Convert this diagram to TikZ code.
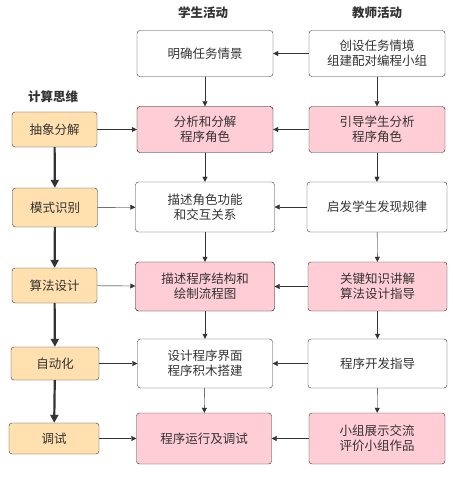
\documentclass[tikz,border=0pt]{standalone}
\usepackage{fontspec}
\setmainfont{Noto Sans CJK SC}
\usepackage{tikz}
\usetikzlibrary{arrows.meta,positioning}
\definecolor{linegray}{HTML}{333333}
\definecolor{pinkfill}{HTML}{FFCDD6}
\definecolor{peach}{HTML}{FFE0AE}

\begin{document}
\begin{tikzpicture}[
x=1pt,y=-1pt,
node distance=30pt and 36pt,
every node/.style={align=center,text=linegray,font=\fontsize{12.5}{15}\selectfont},
box/.style={draw=linegray,rounded corners=3pt,inner sep=3pt,minimum width=136pt,minimum height=46pt},
hot/.style={box,fill=pinkfill},
hotb/.style={hot,draw=black},
ct/.style={draw=linegray,fill=peach,rounded corners=3pt,minimum width=85pt,minimum height=35pt},
head/.style={font=\fontsize{12.5}{15}\selectfont\bfseries},
arr/.style={-{Triangle[length=5pt,width=5pt]},draw=linegray,fill=linegray},
big/.style={-{Triangle[length=8pt,width=8pt]},draw=linegray,line width=2.2pt}
]
\useasboundingbox (0,0) rectangle (452,478);

% student column
\node[box] (s1) at (205,53.5) {明确任务情景};
\node[hotb] (s2) at (205,129.5) {分析和分解\\程序角色};
\node[box,minimum width=139pt,minimum height=50pt] (s3) at (205,207) {描述角色功能\\和交互关系};
\node[hotb,minimum width=139pt,minimum height=49pt] (s4) at (205,286.5) {描述程序结构和\\绘制流程图};
\node[box,minimum width=135pt,minimum height=49pt] (s5) at (205,363.5) {设计程序界面\\程序积木搭建};
\node[hot,minimum width=135pt,minimum height=51pt] (s6) at (204,438.5) {程序运行及调试};

% teacher column
\node[box] (t1) at (377,53.5) {创设任务情境\\组建配对编程小组};
\node[hot] (t2) at (377,129.5) {引导学生分析\\程序角色};
\node[box,minimum width=140pt,minimum height=50pt] (t3) at (377,207) {启发学生发现规律};
\node[hot,minimum width=139pt,minimum height=49pt] (t4) at (377.5,286.5) {关键知识讲解\\算法设计指导};
\node[box,minimum width=139pt,minimum height=49pt] (t5) at (377.5,363.5) {程序开发指导};
\node[hot,minimum width=136pt,minimum height=51pt] (t6) at (377,438.5) {小组展示交流\\评价小组作品};

% computational thinking
\node[ct] (c1) at (54.5,129.5) {抽象分解};
\node[ct,minimum height=39pt] (c2) at (55,207.5) {模式识别};
\node[ct] (c3) at (54.5,285.5) {算法设计};
\node[ct,minimum width=88pt,minimum height=33pt] (c4) at (55,363.5) {自动化};
\node[ct,minimum width=90pt,minimum height=31pt] (c5) at (54,438.5) {调试};

% headers
\node[head] (hs) at (203,13) {学生活动};
\node[head] (ht) at (377,13) {教师活动};
\node[head] (hc) at (53,97) {计算思维};

\foreach \i/\j in {1/2,2/3,3/4,4/5,5/6} {
  \draw[arr] (s\i) -- (s\j);
  \draw[arr] (t\i) -- (t\j);
}
\foreach \i in {1,...,6}
  \draw[arr] (t\i) -- (s\i);
\foreach \i/\j in {1/2,2/3,3/4,4/5}
  \draw[big] (c\i) -- (c\j);
\foreach \i/\j in {1/2,2/3,3/4,4/5,5/6}
  \draw[arr] (c\i) -- (s\j);
\end{tikzpicture}
\end{document}
